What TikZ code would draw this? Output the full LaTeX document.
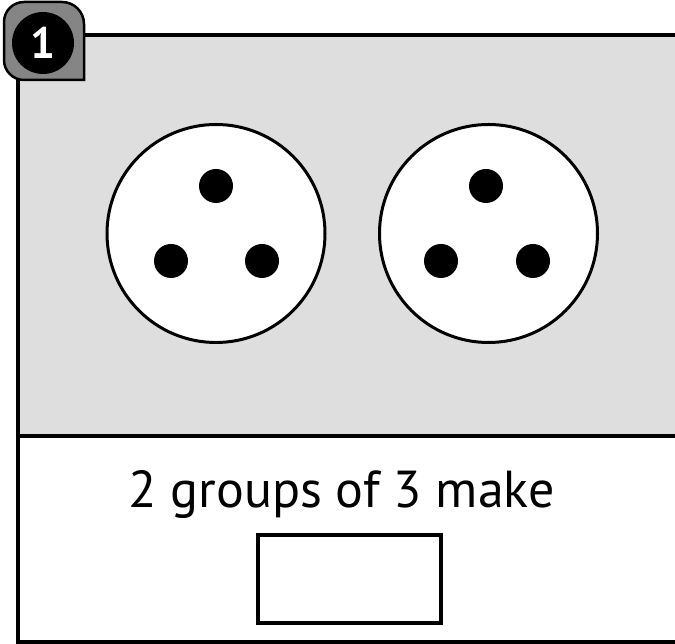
\documentclass[tikz,border=0pt]{standalone}
\usepackage{fontspec}
\setmainfont{PT Sans}
\tikzset{
  frameline/.style={line width=4pt, draw=black},
  plug/.style={circle, draw=black, line width=3pt, fill=white, minimum size=218pt, inner sep=0pt},
  pin/.style={circle, fill=black, minimum size=34pt, inner sep=0pt},
  answerbox/.style={draw=black, line width=4pt, fill=white, minimum width=183pt, minimum height=88pt, inner sep=0pt},
  badge/.style={draw=black, line width=2.5pt, fill=black!48}
}
\begin{document}
\begin{tikzpicture}[x=1pt,y=1pt]
\useasboundingbox (0,0) rectangle (675,644);
\clip (0,0) rectangle (675,644);
% panels
\fill[fill=black!13] (18,208) rectangle (700,609);
\draw[frameline] (700,609) -- (18,609) -- (18,2) -- (700,2);
\draw[frameline, line width=3.5pt] (18,208) -- (700,208);
% plug sockets
\node[plug] (s1) at (216,410.5) {};
\node[plug] (s2) at (488.5,410.5) {};
\node[pin] (p1a) at (216,458) {};
\node[pin] (p1b) at (171,383) {};
\node[pin] (p1c) at (262,383) {};
\node[pin] (p2a) at (486,458) {};
\node[pin] (p2b) at (441,383) {};
\node[pin] (p2c) at (533,383) {};
% text
\node[anchor=base, font=\fontsize{52}{56}\selectfont, inner sep=0pt] (txt) at (341.5,136) {2 groups of 3 make};
\node[answerbox] (ans) at (349.5,65) {};
% badge
\draw[badge] (84,564) -- (24,564) arc[start angle=270, end angle=180, radius=20] -- (4,622) arc[start angle=180, end angle=90, radius=20] -- (62,642) arc[start angle=90, end angle=0, radius=22] -- cycle;
\node[circle, fill=black, minimum size=62pt, inner sep=0pt] (bc) at (43,601) {};
\node[text=white, font=\fontsize{44}{44}\selectfont\bfseries, inner sep=0pt] (num) at (bc) {1};
\end{tikzpicture}
\end{document}
